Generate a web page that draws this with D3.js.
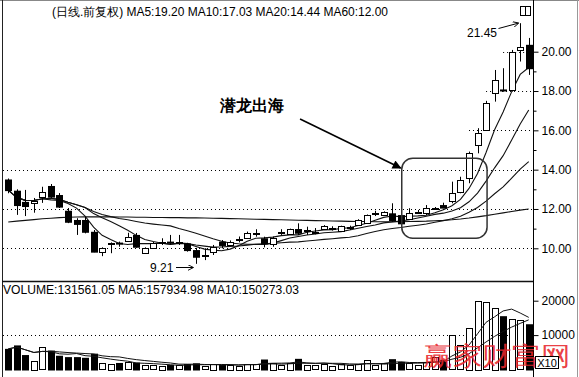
<!DOCTYPE html>
<html><head><meta charset="utf-8">
<script src="https://cdn.jsdelivr.net/npm/d3@7"></script>
<style>body{margin:0;background:#fff}svg{display:block}text{font-family:"Liberation Sans",Arial,sans-serif}</style>
</head><body>
<svg id="c" width="579" height="377"></svg>
<script>
// ---- data ----
const opens  = [13.50,12.93,12.36,12.29,12.63,13.17,12.71,11.91,11.44,11.44,10.84,9.85,10.22,10.29,10.34,10.68,9.78,10.05,10.31,10.34,10.31,10.25,9.91,9.62,9.78,10.34,10.17,10.42,10.56,10.77,10.51,10.25,10.82,10.71,10.98,10.90,10.82,10.97,11.00,10.90,11.05,11.19,11.30,11.76,11.69,11.78,11.69,11.53,11.84,11.78,12.02,12.20,12.37,12.88,13.56,15.26,16.02,17.89,18.08,18.06,20.06,20.35];
const highs  = [13.55,13.00,12.97,12.56,13.13,13.27,12.81,12.05,11.53,11.60,10.93,10.05,10.30,10.34,10.79,10.78,10.05,10.32,10.51,10.68,10.68,10.28,10.02,10.00,10.17,10.42,10.40,10.60,10.85,10.97,10.59,10.59,10.97,11.00,11.27,11.10,11.03,11.18,11.12,11.15,11.15,11.48,11.72,11.91,11.88,12.29,11.95,12.04,11.95,12.20,12.10,12.32,13.39,13.64,14.92,16.11,17.50,19.07,19.16,20.09,21.45,20.70];
const lows   = [12.80,11.70,11.64,11.81,12.31,12.56,12.05,11.28,10.68,10.76,9.80,9.60,9.75,10.08,10.34,10.03,9.76,10.03,10.17,10.17,10.17,9.83,9.21,9.40,9.66,10.00,10.12,10.30,10.50,10.59,10.05,10.08,10.68,10.68,10.68,10.68,10.71,10.93,10.90,10.88,10.93,11.15,11.25,11.64,11.66,11.35,11.19,11.44,11.76,11.69,11.95,12.04,12.29,12.80,13.31,14.83,15.97,17.46,17.97,17.97,19.50,18.82];
const closes = [12.96,12.20,12.15,12.41,12.88,12.63,12.12,11.35,11.24,10.84,9.83,10.03,10.29,10.24,10.56,10.08,10.03,10.29,10.34,10.31,10.34,9.91,9.57,9.66,10.05,10.17,10.34,10.46,10.79,10.80,10.25,10.54,10.85,10.98,10.79,10.93,10.85,11.13,11.03,11.13,11.08,11.44,11.70,11.78,11.86,11.44,11.27,11.81,11.86,12.04,12.04,12.07,12.80,13.48,14.83,15.85,17.41,18.56,18.03,20.00,20.23,19.16];
const volumes = [6000,7000,4200,2600,6500,5500,4000,3600,3600,3400,4600,1800,1700,1900,2100,2000,1300,1200,1100,1300,1200,1600,1800,1000,1600,1300,1400,1100,1700,1500,2900,1900,1200,2000,3100,1400,1200,1600,1100,1500,1200,1600,2800,1300,1900,3000,2200,1800,1200,2100,3600,2800,10000,7000,12100,20000,19500,18000,15500,14800,14300,13156];
const ma60 = [11.34,11.38,11.42,11.46,11.50,11.53,11.56,11.58,11.59,11.60,11.60,11.60,11.60,11.59,11.59,11.58,11.58,11.57,11.57,11.56,11.56,11.55,11.55,11.54,11.53,11.52,11.51,11.50,11.49,11.48,11.47,11.46,11.45,11.44,11.43,11.42,11.41,11.40,11.39,11.38,11.37,11.36,11.36,11.35,11.35,11.35,11.35,11.36,11.37,11.38,11.40,11.42,11.45,11.49,11.54,11.60,11.66,11.73,11.80,11.87,11.94,12.00];
const priceTicks = [10,12,14,16,18,20];
const priceMinor = [11,13,15,17,19];
const volTicks = [10000,20000];
const header = "(日线.前复权) MA5:19.20 MA10:17.03 MA20:14.44 MA60:12.00";
const volHeader = "VOLUME:131561.05 MA5:157934.98 MA10:150273.03";
const title = "潜龙出海";
const lowLabel = "9.21", highLabel = "21.45";
const watermark = "赢家财富网";

// ---- scales ----
const svg = d3.select("#c");
const idx = d3.range(closes.length);
const x = d3.scaleBand().domain(idx).range([4,533]).paddingInner(0.3).paddingOuter(0.15);
const cx = i => x(0) + x.step()*i + x.bandwidth()/2;
const y = d3.scaleLinear().domain([10,20]).range([248.3,51.7]);
const yv = d3.scaleLinear().domain([0,20000]).range([369.5,300.7]);
const AX = 533.5;

// defs
const defs = svg.append("defs");
defs.append("marker").attr("id","solid").attr("viewBox","0 0 10 10").attr("refX",9).attr("refY",5)
  .attr("markerWidth",12).attr("markerHeight",9).attr("markerUnits","userSpaceOnUse").attr("orient","auto")
  .append("path").attr("d","M0,0L10,5L0,10Z").attr("fill","#000");
defs.append("marker").attr("id","open").attr("viewBox","0 0 10 10").attr("refX",9).attr("refY",5)
  .attr("markerWidth",6).attr("markerHeight",6).attr("markerUnits","userSpaceOnUse").attr("orient","auto")
  .append("path").attr("d","M0,0L10,5L0,10").attr("fill","none").attr("stroke","#000").attr("stroke-width",1.5);

// frame
svg.append("line").attr("x1",0).attr("x2",579).attr("y1",0.5).attr("y2",0.5).attr("stroke","#888");
svg.append("line").attr("x1",2.5).attr("x2",2.5).attr("y1",0).attr("y2",377).attr("stroke","#222");
svg.append("line").attr("x1",2).attr("x2",AX).attr("y1",281.5).attr("y2",281.5).attr("stroke","#111").attr("stroke-width",1.5);
svg.append("line").attr("x1",AX).attr("x2",AX).attr("y1",0).attr("y2",377).attr("stroke","#000");
svg.append("line").attr("x1",577.5).attr("x2",577.5).attr("y1",0).attr("y2",377).attr("stroke","#999");

// price grid (dotted)
const gridStart = {10:-1,12:-1,14:-1,16:54,18:56,20:58};
priceTicks.forEach(t=>{
  const xs = gridStart[t] < 0 ? 3 : cx(gridStart[t]);
  svg.append("line").attr("x1",xs).attr("x2",AX).attr("y1",Math.round(y(t))+0.5).attr("y2",Math.round(y(t))+0.5)
    .attr("stroke","#000").attr("stroke-dasharray","1,3");
});
// volume grid
svg.append("line").attr("x1",3).attr("x2",AX).attr("y1",Math.round(yv(10000))+0.5).attr("y2",Math.round(yv(10000))+0.5)
  .attr("stroke","#000").attr("stroke-dasharray","1,3");

// axes
const pa = svg.append("g").attr("transform",`translate(${AX},0)`)
  .call(d3.axisRight(y).tickValues(priceTicks).tickFormat(d3.format(".2f")).tickSize(5).tickPadding(3));
const pm = svg.append("g").attr("transform",`translate(${AX},0)`)
  .call(d3.axisRight(y).tickValues(priceMinor).tickFormat("").tickSize(3));
const va = svg.append("g").attr("transform",`translate(${AX},0)`)
  .call(d3.axisRight(yv).tickValues(volTicks).tickFormat(d=>String(d)).tickSize(5).tickPadding(3));
[pa,pm,va].forEach(a=>{a.select(".domain").remove();a.selectAll("text").attr("font-size",12).attr("fill","#000").attr("font-family","Liberation Sans, Arial, sans-serif");a.selectAll("line").attr("stroke","#000");});

// MA lines
const movAvg=(arr,n)=>arr.map((_,i)=>d3.mean(arr.slice(Math.max(0,i-n+1),i+1)));
const line = d3.line().x((d,i)=>cx(i)).y(d=>y(d));
[movAvg(closes,5),movAvg(closes,10),movAvg(closes,20),ma60].forEach(s=>{
  svg.append("path").attr("d",line(s)).attr("fill","none").attr("stroke","#111").attr("stroke-width",1.1);
});

// candles
idx.forEach(i=>{
  const up = closes[i] >= opens[i];
  const xc = Math.round(cx(i))+0.5;
  svg.append("line").attr("x1",xc).attr("x2",xc).attr("y1",y(highs[i])).attr("y2",y(lows[i])).attr("stroke","#000");
  const top = y(Math.max(opens[i],closes[i])), bot = y(Math.min(opens[i],closes[i]));
  const h = Math.max(1,bot-top);
  if(up){
    svg.append("rect").attr("x",xc-3).attr("y",Math.round(top)+0.5).attr("width",6).attr("height",Math.max(0.5,Math.round(h)))
      .attr("fill","#fff").attr("stroke","#000");
  } else {
    svg.append("rect").attr("x",xc-3.5).attr("y",top).attr("width",7).attr("height",h+1).attr("fill","#000");
  }
});

// volume bars
idx.forEach(i=>{
  const up = closes[i] >= opens[i];
  const xc = Math.round(cx(i))+0.5;
  const top = yv(volumes[i]), base = yv(0);
  if(up){
    svg.append("rect").attr("x",xc-3).attr("y",Math.round(top)+0.5).attr("width",6).attr("height",Math.round(base-top))
      .attr("fill","#fff").attr("stroke","#000");
  } else {
    svg.append("rect").attr("x",xc-3.5).attr("y",top).attr("width",7).attr("height",base-top+1).attr("fill","#000");
  }
});
const vline = d3.line().x((d,i)=>cx(i)).y(d=>yv(d));
[movAvg(volumes,5),movAvg(volumes,10)].forEach(s=>{
  svg.append("path").attr("d",vline(s)).attr("fill","none").attr("stroke","#111").attr("stroke-width",1);
});

// headers
svg.append("text").attr("x",52).attr("y",16).attr("font-size",12).attr("textLength",336).attr("lengthAdjust","spacingAndGlyphs")
  .attr("font-family","Liberation Sans, Noto Sans CJK SC, sans-serif").text(header);
svg.append("text").attr("x",3).attr("y",294).attr("font-size",12).attr("textLength",296).attr("lengthAdjust","spacingAndGlyphs").text(volHeader);
// icon
svg.append("rect").attr("x",520.5).attr("y",6.5).attr("width",10).attr("height",9).attr("fill","#fff").attr("stroke","#000");
svg.append("line").attr("x1",525.5).attr("x2",525.5).attr("y1",6.5).attr("y2",15.5).attr("stroke","#000");

// watermark (drawn under the X10 box)
svg.append("text").attr("x",423).attr("y",365).attr("font-size",26).attr("fill","#e8262d").attr("fill-opacity",0.9)
  .attr("font-family","Noto Sans CJK SC, sans-serif").attr("font-weight",300).attr("textLength",148).attr("lengthAdjust","spacingAndGlyphs").text(watermark);

// X10 box
svg.append("rect").attr("x",535.5).attr("y",356.5).attr("width",23).attr("height",12).attr("fill","#fff").attr("stroke","#000");
svg.append("text").attr("x",547).attr("y",366.5).attr("text-anchor","middle").attr("font-size",11).text("X10");

// annotation: box + arrow + title
const boxI=[46,56], boxP=[14.58,10.51];
svg.append("rect").attr("x",cx(boxI[0])+1).attr("y",y(boxP[0])).attr("width",cx(boxI[1])-cx(boxI[0])).attr("height",y(boxP[1])-y(boxP[0]))
  .attr("rx",11).attr("ry",11).attr("fill","none").attr("stroke","#333").attr("stroke-width",1.5);
svg.append("line").attr("x1",cx(34.2)).attr("y1",y(16.58)).attr("x2",cx(46)).attr("y2",y(14.08))
  .attr("stroke","#000").attr("stroke-width",1.6).attr("marker-end","url(#solid)");
svg.append("text").attr("x",cx(28.6)).attr("y",y(17.0)).attr("text-anchor","middle").attr("font-size",16).attr("font-weight","bold")
  .attr("font-family","Noto Sans CJK SC, sans-serif").text(title);

// high / low labels
svg.append("text").attr("x",497).attr("y",37).attr("text-anchor","end").attr("font-size",12).text(highLabel);
svg.append("line").attr("x1",498.5).attr("y1",28.5).attr("x2",cx(60)-2).attr("y2",y(21.45)).attr("stroke","#000").attr("marker-end","url(#open)");
svg.append("text").attr("x",150).attr("y",272).attr("font-size",12).text(lowLabel);
svg.append("line").attr("x1",176).attr("y1",267.5).attr("x2",cx(22)-3).attr("y2",267.5).attr("stroke","#000").attr("marker-end","url(#open)");
</script>
</body></html>
